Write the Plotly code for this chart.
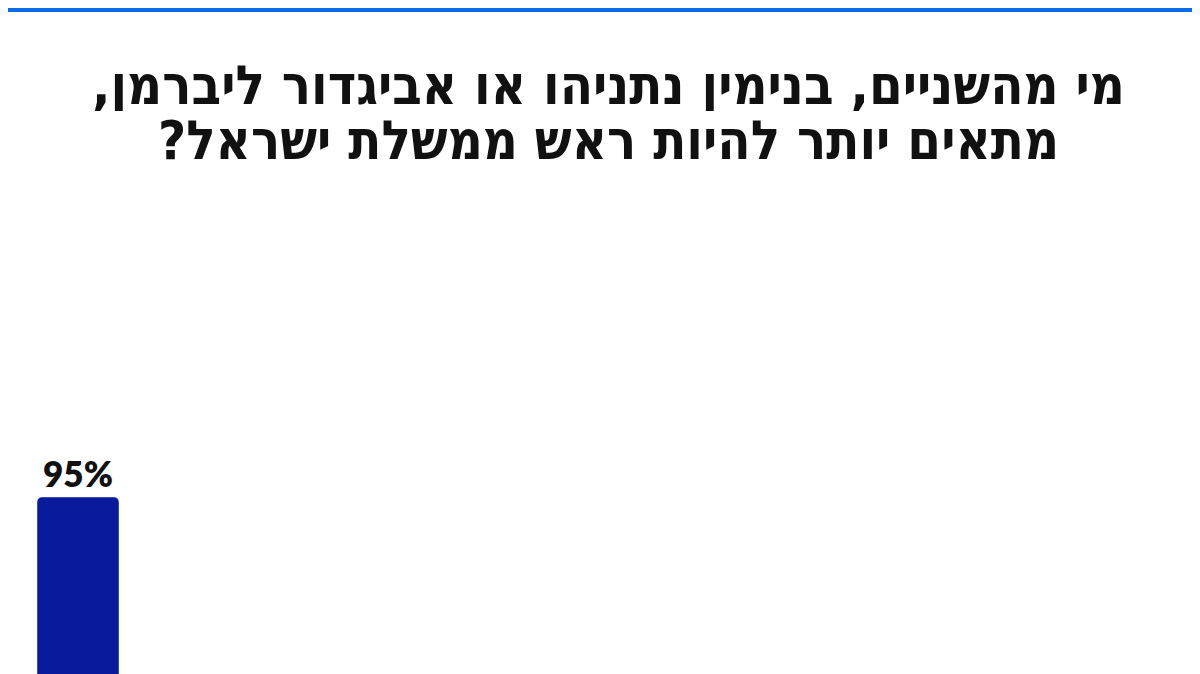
import plotly.graph_objects as go

# Poll question and result
title_lines = [
    "מי מהשניים, בנימין נתניהו או אביגדור ליברמן,",
    "מתאים יותר להיות ראש ממשלת ישראל?",
]
categories = ["בנימין נתניהו"]
values = [95]

W, H = 1200, 674
top_margin = 200
plot_h = H - top_margin

fig = go.Figure()

fig.add_trace(go.Bar(
    x=[0],
    y=values,
    width=1,
    marker=dict(color="#0A1A9C", cornerradius=5),
    text=[f"{v}%" for v in values],
    textposition="outside",
    textfont=dict(size=35, color="#111111", family="Lato", weight=800),
    cliponaxis=False,
    hovertext=categories,
    showlegend=False,
))

# blue strip along the top edge
fig.add_shape(type="rect", xref="paper", yref="paper",
              x0=0, x1=1, y0=1 + (top_margin - 4) / plot_h, y1=1 + top_margin / plot_h,
              fillcolor="#0A6AE8", line=dict(width=0), layer="above")

# title, one annotation per line (RLM keeps punctuation on the left)
line_tops = [49, 104]
for t, top in zip(title_lines, line_tops):
    fig.add_annotation(
        xref="paper", yref="paper", x=0.5, y=1 + (top_margin - top) / plot_h,
        yanchor="top", xanchor="center", showarrow=False,
        height=52, valign="middle",
        text="\u200f" + t + "\u200f",
        font=dict(size=54, color="#111111", family="DejaVu Sans Condensed", weight="bold"),
    )

fig.update_layout(
    width=W, height=H,
    margin=dict(l=0, r=0, t=top_margin, b=0),
    plot_bgcolor="white", paper_bgcolor="white",
    xaxis=dict(visible=False, range=[-70 / 82, (W - 70) / 82]),
    yaxis=dict(visible=False, range=[0, 95 * plot_h / 185]),
)

fig.write_html("out.html")
